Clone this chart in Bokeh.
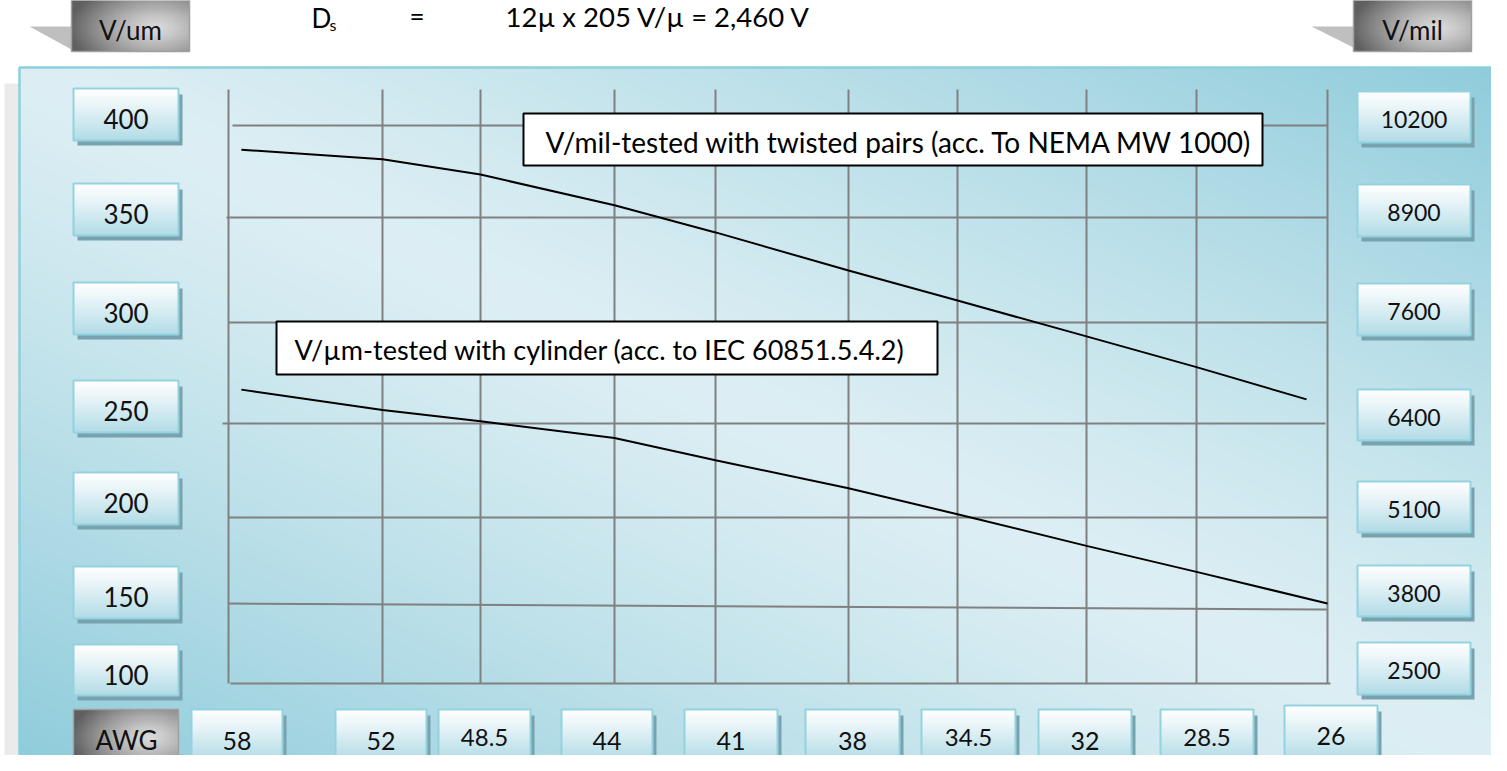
import numpy as np
from bokeh.plotting import figure
from bokeh.models import Range1d
from bokeh.core.properties import value
from bokeh.embed import file_html
from bokeh.resources import INLINE

# ---------------- data ----------------
AWG = [58, 52, 48.5, 44, 41, 38, 34.5, 32, 28.5, 26]
AWG_LABELS = ["58", "52", "48.5", "44", "41", "38", "34.5", "32", "28.5", "26"]
V_UM_LABELS = ["400", "350", "300", "250", "200", "150", "100"]
V_MIL_LABELS = ["10200", "8900", "7600", "6400", "5100", "3800", "2500"]

# V/um - tested with cylinder (IEC 60851.5.4.2)
CYL_AWG = [57.5, 52, 48.5, 44, 41, 38, 34.5, 32, 28.5, 26]
CYL_V_UM = [258, 247, 241, 232, 220, 205, 191, 174, 160, 143]
# V/mil - tested with twisted pairs (NEMA MW 1000)
TP_AWG = [57.5, 52, 48.5, 44, 41, 38, 34.5, 32, 28.5, 26.4]
TP_V_MIL = [9830, 9700, 9490, 9070, 8700, 8180, 7770, 7280, 6860, 6420]

TITLE_EQ = "12\u00b5 x 205 V/\u00b5 = 2,460 V"
NOTE_TP = "V/mil-tested with twisted pairs (acc. To NEMA MW 1000)"
NOTE_CYL = "V/\u00b5m-tested with cylinder (acc. to IEC 60851.5.4.2)"

# ---------------- layout (page pixels) ----------------
H_REF = 771
def Y(y):
    return H_REF - y

FONT = value("Lato")
W, H = 1491, 755
X0, Y0 = 0, 6
p = figure(width=W, height=H, x_range=Range1d(X0, X0 + W), y_range=Range1d(Y(Y0 + H), Y(Y0)),
           output_backend="svg", toolbar_location=None, min_border=0)
p.axis.visible = False
p.grid.visible = False
p.outline_line_color = None
p.background_fill_color = "white"
p.border_fill_color = "white"

# value scales: V/um 400 at y=131, 100 at y=689 ; V/mil = V/um * 25.4
UM_A, UM_B = (400, 131), (100, 689)
k = (UM_B[1] - UM_A[1]) / (UM_A[0] - UM_B[0])
def um_at(ypix):
    return UM_A[0] - (ypix - UM_A[1]) / k
um_lo, um_hi = um_at(Y0 + H), um_at(Y0)
p.extra_y_ranges = {"um": Range1d(um_lo, um_hi), "mil": Range1d(um_lo * 25.4, um_hi * 25.4)}

COL_X = [228, 382, 480, 614, 715, 848, 957, 1086, 1196, 1327]
def awg_x(a):
    return np.interp(-np.asarray(a, float), -np.asarray(AWG, float), COL_X)

def rgba(arr):
    rows, cols = arr.shape[:2]
    img = np.zeros((rows, cols), dtype=np.uint32)
    v = img.view(dtype=np.uint8).reshape((rows, cols, 4))
    v[..., :3] = np.clip(arr, 0, 255).astype(np.uint8)
    v[..., 3] = 255
    return img

def txt(xs, ys, texts, size, align="left", color="black"):
    p.text(x=xs, y=[Y(v) for v in ys], text=texts, text_font=FONT, text_font_size=size,
           text_color=color, text_align=align, text_baseline="middle")

# gray strips behind panel
p.quad(left=[4, 4], right=[19, 1497], top=[Y(89), Y(767)], bottom=[Y(771), Y(771)],
       fill_color="#ebebeb", line_color=None)

# panel gradient
rows, cols = 240, 480
u = np.linspace(0, 1, cols)[None, :]
w = 1 - np.linspace(0, 1, rows)[:, None]
d = np.abs(u - w) ** 1.2
Lc = np.array([221, 239, 244.0]); Dc = np.array([143, 204, 219.0])
panel = Lc + (Dc - Lc) * d[..., None]
p.image_rgba(image=[rgba(panel)], x=19, y=Y(768), dw=1507 - 19, dh=768 - 73)
p.quad(left=19, right=1509, top=Y(73), bottom=Y(767), fill_color=None,
       line_color="#8dcfdd", line_width=2.5)

# grid
GRID_H = [(232, 131, 1327, 131), (226, 223, 1327, 223), (228, 328, 1327, 328),
          (222, 429, 1325, 429), (228, 523, 1327, 523), (228, 609, 1327, 615),
          (230, 689, 1330, 689)]
p.segment(x0=[g[0] for g in GRID_H], y0=[Y(g[1]) for g in GRID_H],
          x1=[g[2] for g in GRID_H], y1=[Y(g[3]) for g in GRID_H],
          line_color="#808080", line_width=2)
p.segment(x0=COL_X, y0=[Y(95)] * len(COL_X), x1=COL_X, y1=[Y(689)] * len(COL_X),
          line_color="#808080", line_width=2)

# curves
p.line(awg_x(TP_AWG), TP_V_MIL, y_range_name="mil", line_color="black", line_width=2)
p.line(awg_x(CYL_AWG), CYL_V_UM, y_range_name="um", line_color="black", line_width=2)

# annotation boxes
p.quad(left=[523, 276], right=[1262, 937], top=[Y(119), Y(327)], bottom=[Y(171), Y(380)],
       fill_color="white", line_color="black", line_width=2)
txt([545], [147], [NOTE_TP], "28px")
txt([294], [355], [NOTE_CYL], "27px")

# light label boxes
LEFT_BOX = [(73, 178, t, b) for t, b in [(94, 146), (189, 241), (288, 340), (386, 438),
                                          (478, 530), (572, 624), (650, 701)]]
RIGHT_BOX = [(1357, 1470, t, b) for t, b in [(97, 148), (190, 242), (289, 341), (395, 446),
                                              (487, 538), (571, 622), (648, 700)]]
BOT_X = [(191, 282), (335, 426), (438, 530), (561, 652), (684, 777), (805, 899),
         (921, 1015), (1038, 1131), (1160, 1253), (1284, 1377)]
BOT_BOX = [(l, r, 711 if i == 9 else 715, 766) for i, (l, r) in enumerate(BOT_X)]
boxes = LEFT_BOX + RIGHT_BOX + BOT_BOX
p.quad(left=[b[0] + 4 for b in boxes], right=[b[1] + 4 for b in boxes],
       top=[Y(b[2] + 6) for b in boxes], bottom=[Y(b[3] + 5) for b in boxes],
       fill_color="#78a2ad", line_color=None)
gr = np.linspace(0, 1, 64)[:, None]
top_c = np.array([255, 255, 255.0]); bot_c = np.array([178, 220, 231.0])
grad = top_c + (bot_c - top_c) * ((1 - gr) ** 1.1)[..., None]
gimg = rgba(grad)
p.image_rgba(image=[gimg] * len(boxes), x=[b[0] for b in boxes], y=[Y(b[3]) for b in boxes],
             dw=[b[1] - b[0] for b in boxes], dh=[b[3] - b[2] for b in boxes])
p.quad(left=[b[0] for b in boxes], right=[b[1] for b in boxes],
       top=[Y(b[2]) for b in boxes], bottom=[Y(b[3]) for b in boxes],
       fill_color=None, line_color="#93d2df", line_width=2)

# label texts
txt([(b[0] + b[1]) / 2 for b in LEFT_BOX], [b[2] + 30 for b in LEFT_BOX], V_UM_LABELS,
    "26px", "center", "#111111")
txt([(b[0] + b[1]) / 2 for b in RIGHT_BOX], [b[2] + 28 for b in RIGHT_BOX], V_MIL_LABELS,
    "23px", "center", "#111111")
bot_mid = [743 if "." in s else 746 for s in AWG_LABELS]
bot_mid[-1] = 741
for i, s in enumerate(AWG_LABELS):
    txt([(BOT_BOX[i][0] + BOT_BOX[i][1]) / 2], [bot_mid[i]], [s],
        "24px" if "." in s else "25px", "center", "#111111")

# dark unit boxes
p.patch([29, 71, 71], [Y(32), Y(32), Y(55)], fill_color="#bfbfbf", line_color=None)
p.patch([1311, 1353, 1353], [Y(32), Y(32), Y(53)], fill_color="#bfbfbf", line_color=None)
DARK = [(71, 189, 5, 57), (1353, 1471, 5, 57), (73, 178, 715, 766)]
p.quad(left=[76], right=[182], top=[Y(760)], bottom=[Y(771)], fill_color="#a6a6a6", line_color=None)
yy, xx = np.mgrid[0:48, 0:96]
ux = xx / 95.0; vy = 1 - yy / 47.0
rad = np.sqrt(((ux - 0.72) / 0.75) ** 2 + ((vy - 0.55) / 0.9) ** 2)
rad = np.clip(rad, 0, 1) ** 1.3
lt = np.array([218, 218, 218.0]); dk = np.array([95, 95, 95.0])
dimg = rgba(lt + (dk - lt) * rad[..., None])
p.image_rgba(image=[dimg] * 3, x=[b[0] for b in DARK], y=[Y(b[3]) for b in DARK],
             dw=[b[1] - b[0] for b in DARK], dh=[b[3] - b[2] for b in DARK])
p.quad(left=[b[0] for b in DARK], right=[b[1] for b in DARK],
       top=[Y(b[2]) for b in DARK], bottom=[Y(b[3]) for b in DARK],
       fill_color=None, line_color="#a0a0a0", line_width=1.5)
txt([130, 1412, 126], [35, 35, 745], ["V/um", "V/mil", "AWG"], "26px", "center", "#111111")

# title
txt([311], [23], ["D"], "26px")
txt([329], [30], ["s"], "16px")
txt([409], [21], ["="], "26px")
txt([505], [22], [TITLE_EQ], "27.5px")

open("out.html", "w").write(file_html(p, INLINE))
